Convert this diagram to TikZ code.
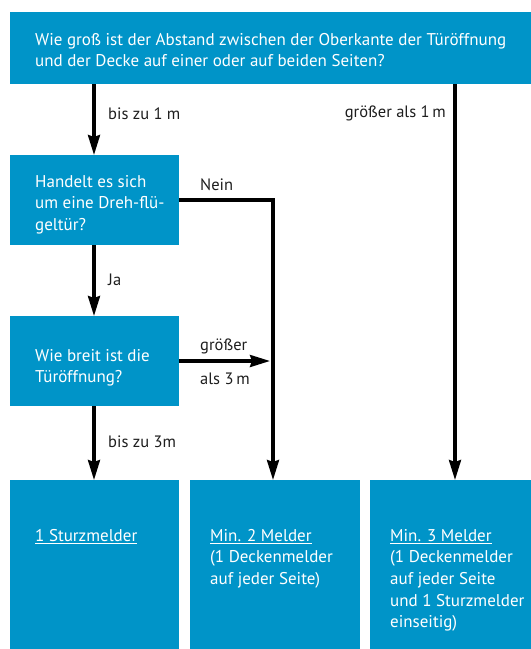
\documentclass[tikz,border=0pt]{standalone}
\usepackage{fontspec}
\setmainfont{PT Sans}
\usetikzlibrary{arrows.meta}
\definecolor{boxblue}{HTML}{0094C8}
\definecolor{lblcol}{HTML}{1E1E1E}
\begin{document}
\begin{tikzpicture}[x=1pt,y=-1pt,
  box/.style={fill=boxblue, draw=none, inner sep=0pt, anchor=north west},
  txt/.style={text=white, font=\fontsize{17}{21.7}\selectfont, align=left, anchor=north west, inner sep=0pt},
  lbl/.style={text=lblcol, font=\fontsize{16.5}{21.7}\selectfont, anchor=base west, inner sep=0pt},
  arr/.style={line width=3.2pt, -{Stealth[length=20pt,width=12pt,inset=2pt]}},
  ln/.style={line width=3.2pt}]
\useasboundingbox (0,0) rectangle (531,649);
% boxes
\node[box, minimum width=521pt, minimum height=72pt] (q1) at (10,12) {};
\node[box, minimum width=169pt, minimum height=90pt] (q2) at (10,155) {};
\node[box, minimum width=169pt, minimum height=90pt] (q3) at (10,316) {};
\node[box, minimum width=169pt, minimum height=169pt] (r1) at (10,480) {};
\node[box, minimum width=170pt, minimum height=169pt] (r2) at (190,480) {};
\node[box, minimum width=161pt, minimum height=169pt] (r3) at (370,480) {};
% texts (first-line baseline = y + 15.19)
\node[txt] (t1) at (35,29.8) {\strut Wie groß ist der Abstand zwischen der Oberkante der Türöffnung\\und der Decke auf einer oder auf beiden Seiten?};
\node[txt] (t2) at (35,171.8) {\strut Handelt es sich\\um eine Dreh-flü-\\geltür?};
\node[txt] (t3) at (35,345.8) {\strut Wie breit ist die\\Türöffnung?};
\node[txt] (t4) at (35,525.8) {\strut\underline{1 Sturzmelder}};
\node[txt] (t5) at (210,525.8) {\strut\underline{Min. 2 Melder}\\(1 Deckenmelder\\auf jeder Seite)};
\node[txt] (t6) at (390,525.8) {\strut\underline{Min. 3 Melder}\\(1 Deckenmelder\\auf jeder Seite\\und 1 Sturzmelder\\einseitig)};
% coordinates
\coordinate (c1) at (273,200);
\coordinate (c2) at (270,361);
% connectors
\draw[arr] (q1.south -| 94,0) -- (q2.north -| 94,0);
\draw[arr] (q1.south -| 455,0) -- (r3.north -| 455,0);
\draw[arr] (q2.south -| 94,0) -- (q3.north -| 94,0);
\draw[arr] (q3.south -| 94,0) -- (r1.north -| 94,0);
\draw[ln, line join=miter] (q2.east |- c1) -- (c1) -- ++(0,100);
\draw[arr] (c1) -- (r2.north -| c1);
\draw[arr] (q3.east |- c2) -- (c2);
% labels
\node[lbl] (l1) at (108,119) {bis zu 1 m};
\node[lbl, anchor=base east] (l2) at (446,117) {größer als 1\,m};
\node[lbl] (l3) at (200,190) {Nein};
\node[lbl] (l4) at (108,285) {Ja};
\node[lbl] (l5) at (200,350) {größer};
\node[lbl] (l6) at (200,384) {als 3\,m};
\node[lbl] (l7) at (108,447) {bis zu 3m};
\end{tikzpicture}
\end{document}
